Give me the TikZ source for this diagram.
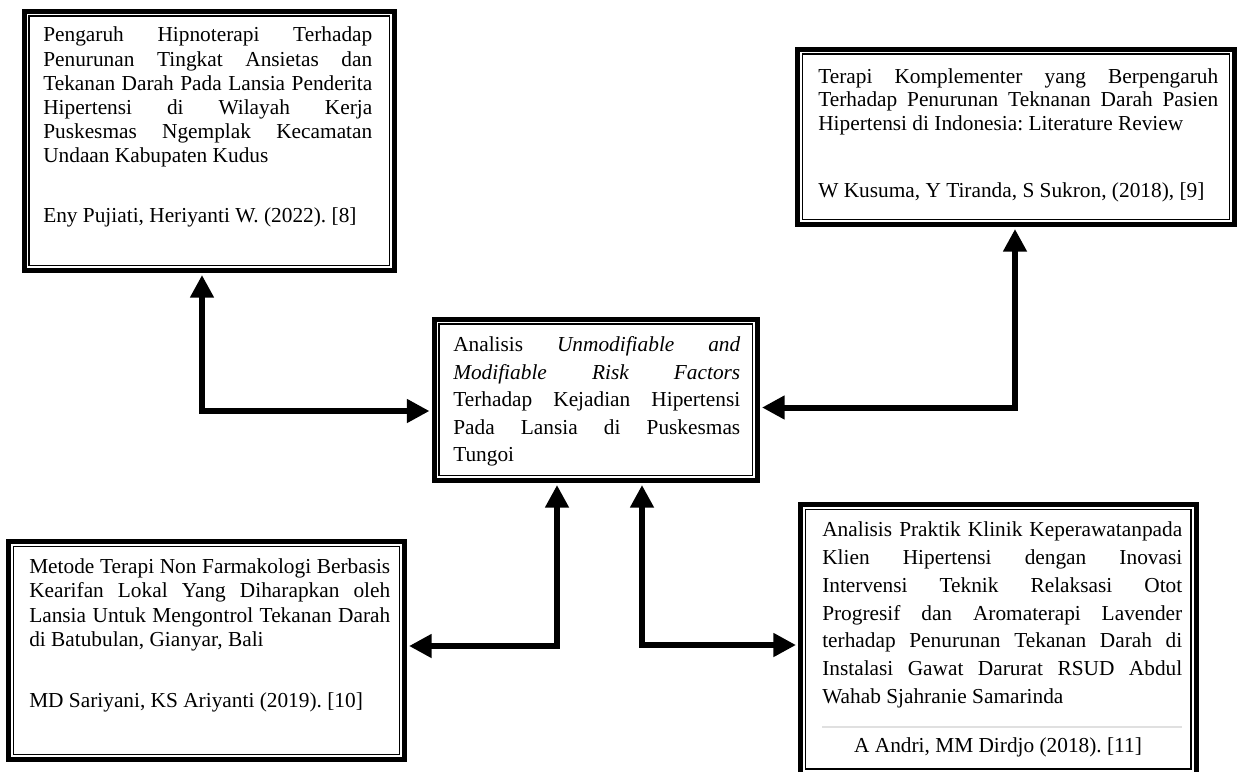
\documentclass[tikz,border=0pt]{standalone}
\usepackage{fontspec}
\setmainfont{Liberation Serif}
\usetikzlibrary{arrows.meta,fit}
\tolerance=9999 \hyphenpenalty=10000 \hbadness=10000
\frenchspacing

\tikzset{
  paper/.style={draw, line width=3.75pt, inner sep=0pt},
  txt/.style={anchor=north west, inner sep=0pt, align=justify},
  link/.style={line width=4.5pt, {Triangle[length=17pt,width=17pt]}-{Triangle[length=17pt,width=17pt]}, shorten <=1.5pt, shorten >=1.5pt}
}
\newcommand\topline{\rule{0pt}{12pt}}

\begin{document}
\begin{tikzpicture}[x=0.75pt, y=-0.75pt]
\useasboundingbox (0,0) rectangle (1237,771);
% boxes
\node[paper, fit={(24,11) (394.5,270.5)}] (hipno) {};
\node[paper, fit={(797.5,49) (1234.5,224.5)}] (terapi) {};
\node[paper, fit={(434,319) (757.5,480.5)}] (analisis) {};
\node[paper, fit={(8.5,541.5) (404.5,759.5)}] (metode) {};
\node[paper, fit={(800.5,504.5) (1196,774)}] (praktik) {};
\foreach \b in {hipno,terapi,analisis,metode,praktik}
  \draw[line width=1.1pt] ([shift={(5.6pt,-5.6pt)}]\b.north west) rectangle ([shift={(-5.6pt,5.6pt)}]\b.south east);

% texts
\node[txt, text width=246.75pt, font={\fontsize{16}{18.15}\selectfont}] (hipnotxt) at (43,25.7)
  {\topline Pengaruh Hipnoterapi Terhadap\linebreak Penurunan Tingkat Ansietas dan\linebreak
   Tekanan Darah Pada Lansia Penderita\linebreak Hipertensi di Wilayah Kerja\linebreak
   Puskesmas Ngemplak Kecamatan\linebreak Undaan Kabupaten Kudus\\[26.85pt]
   Eny Pujiati, Heriyanti W. (2022). [8]};
\node[txt, text width=300pt, font={\fontsize{16}{17.55}\selectfont}] (terapitxt) at (818,67.3)
  {\topline Terapi Komplementer yang Berpengaruh\linebreak Terhadap Penurunan Teknanan Darah Pasien\linebreak
   Hipertensi di Indonesia: Literature Review\\[32.5pt]
   W Kusuma, Y Tiranda, S Sukron, (2018), [9]};
\node[txt, text width=215.25pt, font={\fontsize{16}{20.6}\selectfont}] (analisistxt) at (453,335.7)
  {\topline Analisis \textit{Unmodifiable and\linebreak Modifiable Risk Factors}\linebreak
   Terhadap Kejadian Hipertensi\linebreak Pada Lansia di Puskesmas\linebreak Tungoi};
\node[txt, text width=270.75pt, font={\fontsize{16}{18.4}\selectfont}] (metodetxt) at (29,557)
  {\topline Metode Terapi Non Farmakologi Berbasis\linebreak Kearifan Lokal Yang Diharapkan oleh\linebreak
   Lansia Untuk Mengontrol Tekanan Darah\linebreak di Batubulan, Gianyar, Bali\\[27.35pt]
   MD Sariyani, KS Ariyanti (2019). [10]};
\node[txt, text width=270pt, font={\fontsize{16}{20.8}\selectfont}] (praktiktxt) at (822,520.7)
  {\topline Analisis Praktik Klinik Keperawatanpada\linebreak Klien Hipertensi dengan Inovasi\linebreak
   Intervensi Teknik Relaksasi Otot\linebreak Progresif dan Aromaterapi Lavender\linebreak
   terhadap Penurunan Tekanan Darah di\linebreak Instalasi Gawat Darurat RSUD Abdul\linebreak
   Wahab Sjahranie Samarinda};
\draw[black!12, line width=0.9pt] (822,727) -- (1182,727);
\node[anchor=base, inner sep=0pt, font={\fontsize{16}{19}\selectfont}] (praktikref) at (998,752)
  {A Andri, MM Dirdjo (2018). [11]};

% connectors
\draw[link] (hipno.south -| 202,0) |- (analisis.west |- 0,411);
\draw[link] (terapi.south -| 1015,0) |- (analisis.east |- 0,407.5);
\draw[link] (analisis.south -| 557,0) |- (metode.east |- 0,646);
\draw[link] (analisis.south -| 642,0) |- (praktik.west |- 0,645);
\end{tikzpicture}
\end{document}
